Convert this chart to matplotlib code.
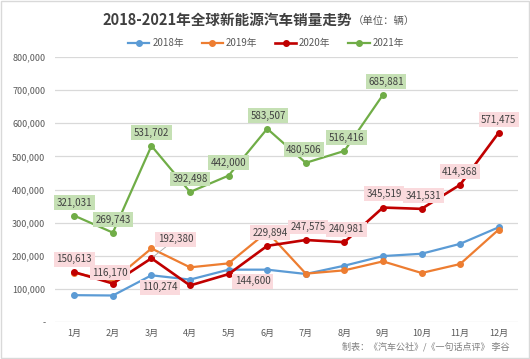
import matplotlib.pyplot as plt
from matplotlib.patches import Rectangle
from matplotlib.ticker import FuncFormatter

plt.rcParams['font.family'] = ['Noto Sans CJK SC', 'DejaVu Sans']

months = ['1月', '2月', '3月', '4月', '5月', '6月', '7月', '8月', '9月', '10月', '11月', '12月']
series_names = ['2018年', '2019年', '2020年', '2021年']

sales_2018 = [81000, 80000, 141000, 128000, 158000, 158000, 145000, 170000, 199000, 206000, 236000, 286000]
sales_2019 = [148000, 125000, 222000, 165000, 177000, 272000, 146000, 156000, 183000, 148000, 175000, 279000]
sales_2020 = [150613, 116170, 192380, 110274, 144600, 229894, 247575, 240981, 345519, 341531, 414368, 571475]
sales_2021 = [321031, 269743, 531702, 392498, 442000, 583507, 480506, 516416, 685881]

colors = ['#5B9BD5', '#ED7D31', '#C00000', '#70AD47']

# label offsets in pixels (dx, dy) from the point
off_2020 = [(0, 13), (-3, 11), (24, 19), (-30, -2), (24, -7), (3, 13),
            (2, 13), (2, 13), (1, 14), (2, 13), (0, 13), (0, 13)]
off_2021 = [(0, 13), (0, 13), (0, 13), (0, 13), (0, 13), (1, 13),
            (-2, 13), (2, 13), (3, 13)]

fig = plt.figure(figsize=(5.3, 3.59), dpi=100)
ax = fig.add_axes([55 / 530, 1 - 322 / 359, 463 / 530, 265 / 359])

lw = [1.6, 1.6, 1.9, 1.6]
for i, (name, vals) in enumerate(zip(series_names, [sales_2018, sales_2019, sales_2020, sales_2021])):
    ax.plot(range(len(vals)), vals, color=colors[i], lw=lw[i], marker='o', ms=4,
            label=name, zorder=3 + i, solid_joinstyle='round')

for i, v in enumerate(sales_2020):
    dx, dy = off_2020[i]
    arrow = None
    if i == 2:
        arrow = dict(arrowstyle='-', color='#A6A6A6', lw=0.6, shrinkA=0, shrinkB=2)
    ax.annotate(f'{v:,}', (i, v), xytext=(dx, dy), textcoords='offset pixels',
                ha='center', va='center', fontsize=7, color='#404040',
                bbox=dict(boxstyle='square,pad=0.25', fc='#FADADD', ec='none'),
                arrowprops=arrow, zorder=10)

for i, v in enumerate(sales_2021):
    dx, dy = off_2021[i]
    ax.annotate(f'{v:,}', (i, v), xytext=(dx, dy), textcoords='offset pixels',
                ha='center', va='center', fontsize=7, color='#404040',
                bbox=dict(boxstyle='square,pad=0.25', fc='#C5E0B4', ec='none'),
                zorder=11)

ax.set_xlim(-0.5, 11.5)
ax.set_ylim(0, 800000)
ax.set_yticks(range(0, 800001, 100000))
ax.yaxis.set_major_formatter(FuncFormatter(lambda v, p: '-' if v == 0 else f'{int(v):,}'))
ax.set_xticks(range(12))
ax.set_xticklabels(months)
ax.tick_params(axis='both', length=0, labelsize=6.5, colors='#595959')
ax.tick_params(axis='y', pad=7)
ax.tick_params(axis='x', pad=5)
ax.grid(axis='y', color='#D9D9D9', lw=0.9)
ax.set_axisbelow(True)
for s in ax.spines.values():
    s.set_visible(False)

fig.text(352 / 530, 1 - 20 / 359, '2018-2021年全球新能源汽车销量走势', ha='right', va='center',
         fontsize=10.5, fontweight='bold', color='#404040')
fig.text(353 / 530, 1 - 21 / 359, '（单位：辆）', ha='left', va='center',
         fontsize=7.5, color='#595959')

fig.legend(loc='center', bbox_to_anchor=(266 / 530, 1 - 43 / 359), ncol=4, frameon=False,
           fontsize=7, handlelength=2.2, columnspacing=1.8, handletextpad=0.3,
           labelcolor='#595959')

fig.text(510 / 530, 1 - 347 / 359, '制表：《汽车公社》/《一句话点评》 李谷', ha='right', va='center',
         fontsize=6.5, color='#7F7F7F')

fig.patches.append(Rectangle((0.002, 0.003), 0.996, 0.994, transform=fig.transFigure,
                             fill=False, ec='#D9D9D9', lw=1))

fig.savefig('out.png', dpi=100)
